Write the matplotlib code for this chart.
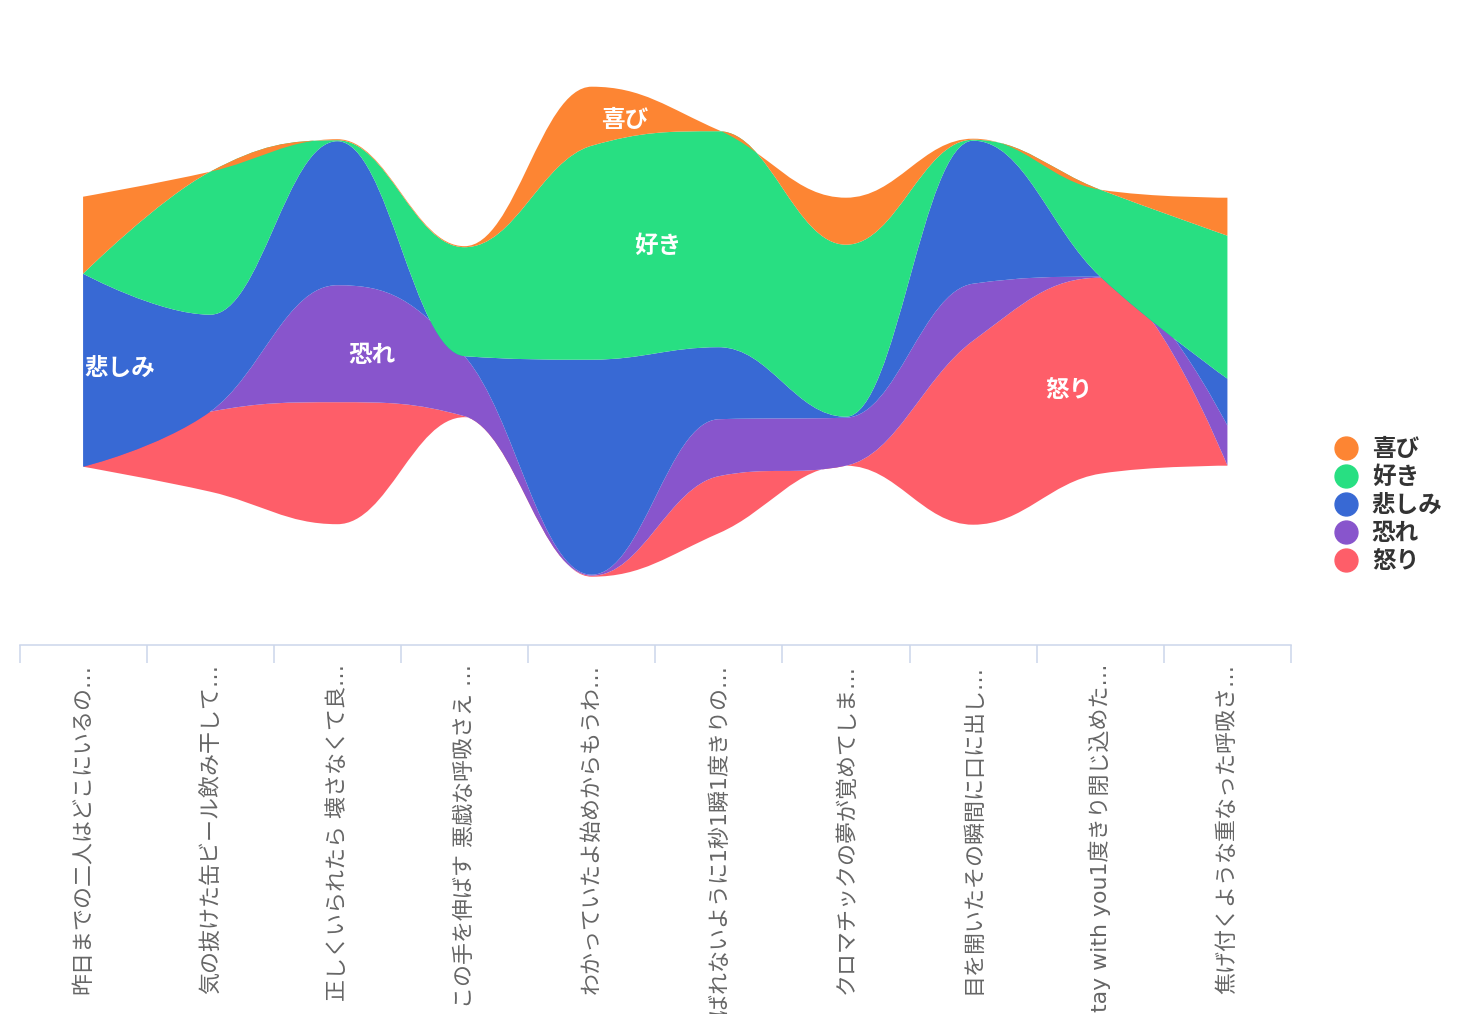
import numpy as np
import matplotlib
matplotlib.use("Agg")
import matplotlib.pyplot as plt
from matplotlib.path import Path
from matplotlib.patches import PathPatch
from matplotlib.lines import Line2D

plt.rcParams['font.family'] = ['Noto Sans CJK JP', 'DejaVu Sans']

# lyric lines (x categories), truncated like the original axis
categories = [
    "昨日までの二人はどこにいるの…",
    "気の抜けた缶ビール飲み干して…",
    "正しくいられたら 壊さなくて良…",
    "この手を伸ばす 悪戯な呼吸さえ …",
    "わかっていたよ始めからもうわ…",
    "ばれないように1秒1瞬1度きりの…",
    "クロマチックの夢が覚めてしま…",
    "目を開いたその瞬間に口に出し…",
    "Stay with you1度きり閉じ込めた…",
    "焦げ付くような重なった呼吸さ…",
]

# emotion scores per line (top of the stream first)
names = ["喜び", "好き", "悲しみ", "恐れ", "怒り"]
joy     = [7.7, 0.0, 0.1, 0.1, 5.9, 0.1, 4.7, 0.1, 0.0, 3.8]
like    = [0.0, 14.3, 0.1, 10.9, 21.4, 21.6, 17.2, 0.1, 8.7, 14.3]
sadness = [19.3, 9.7, 14.4, 0.0, 21.5, 7.2, 0.1, 14.3, 0.0, 4.7]
fear    = [0.0, 0.0, 11.7, 6.0, 0.1, 5.7, 4.8, 5.7, 0.1, 4.0]
anger   = [0.0, 8.0, 12.2, 0.1, 0.1, 5.7, 0.0, 18.4, 19.6, 0.0]
colors = ["#fd8533", "#28df82", "#3869d4", "#8855cc", "#fe5e69"]
# where the series names sit along the x axis
label_at = [4.26, 4.52, 0.29, 2.27, 7.75]

series = [joy, like, sadness, fear, anger]


def spline(xs, ys):
    # spline with 1.5 smoothing, control points kept between neighbours
    n = len(xs)
    left = [None] * n
    right = [None] * n
    sm = 1.5
    den = sm + 1
    for i in range(1, n - 1):
        px, py = xs[i], ys[i]
        lx, ly = xs[i - 1], ys[i - 1]
        nx, ny = xs[i + 1], ys[i + 1]
        lcx = (sm * px + lx) / den
        lcy = (sm * py + ly) / den
        rcx = (sm * px + nx) / den
        rcy = (sm * py + ny) / den
        corr = 0
        if rcx != lcx:
            corr = (rcy - lcy) * (rcx - px) / (rcx - lcx) + py - rcy
        lcy += corr
        rcy += corr
        if lcy > ly and lcy > py:
            lcy = max(ly, py); rcy = 2 * py - lcy
        elif lcy < ly and lcy < py:
            lcy = min(ly, py); rcy = 2 * py - lcy
        if rcy > ny and rcy > py:
            rcy = max(ny, py); lcy = 2 * py - rcy
        elif rcy < ny and rcy < py:
            rcy = min(ny, py); lcy = 2 * py - rcy
        left[i] = (lcx, lcy)
        right[i] = (rcx, rcy)
    verts = []
    for i in range(1, n):
        verts.append(right[i - 1] or (xs[i - 1], ys[i - 1]))
        verts.append(left[i] or (xs[i], ys[i]))
        verts.append((xs[i], ys[i]))
    return verts


W, H = 1476, 1014
fig = plt.figure(figsize=(W / 100, H / 100), dpi=100)
ax_left, ax_right = 19.5, 1291
ax_top, ax_bottom = 18.4, 645
ax = fig.add_axes([ax_left / W, 1 - ax_bottom / H, (ax_right - ax_left) / W, (ax_bottom - ax_top) / H])

vals = np.array(series)
x = np.arange(len(categories))
total = vals.sum(axis=0)
half = 31.33
ax.set_xlim(-0.5, len(categories) - 0.5)
ax.set_ylim(-half, half)

# stream stacking: first series on top, centred on zero
lower = -total / 2
bounds = {}
for k in range(len(names) - 1, -1, -1):
    upper = lower + vals[k]
    bounds[k] = (lower.copy(), upper.copy())
    top = spline(list(x), list(upper))
    bot = spline(list(x[::-1]), list(lower[::-1]))
    v = [(x[0], upper[0])] + top + [(x[-1], lower[-1])] + bot + [(x[0], upper[0])]
    codes = [Path.MOVETO] + [Path.CURVE4] * len(top) + [Path.LINETO] + [Path.CURVE4] * len(bot) + [Path.CLOSEPOLY]
    ax.add_patch(PathPatch(Path(v, codes), facecolor=colors[k], edgecolor='none', lw=0))
    lower = upper

for k, name in enumerate(names):
    lo, up = bounds[k]
    mid = (lo + up) / 2
    ax.text(label_at[k], np.interp(label_at[k], x, mid), name, color='white',
            fontsize=17, fontweight='bold', ha='center', va='center')

# category axis
ax.set_xticks(x)
ax.set_xticklabels(categories, rotation=90, fontsize=15.8, color='#666666',
                   family=['DejaVu Sans', 'Noto Sans CJK JP'])
ax.set_xticks(np.arange(-0.5, len(categories)), minor=True)
ax.tick_params(axis='x', which='major', length=0, pad=13.5)
ax.tick_params(axis='x', which='minor', length=13, width=1.1, color='#ccd6eb', direction='out')
ax.set_yticks([])
for s in ['top', 'left', 'right']:
    ax.spines[s].set_visible(False)
ax.spines['bottom'].set_color('#ccd6eb')
ax.spines['bottom'].set_linewidth(1.1)

handles = [Line2D([], [], ls='none', marker='o', markersize=16.5, color=c) for c in colors]
leg = fig.legend(handles, names, loc='center left', bbox_to_anchor=(1334 / W, 1 - 505 / H),
                 frameon=False, borderpad=0, borderaxespad=0, handlelength=1.0,
                 handletextpad=0.6, labelspacing=0.17,
                 prop={'size': 17, 'weight': 'bold'})
for t in leg.get_texts():
    t.set_color('#333333')

fig.savefig("out.png", dpi=100)
